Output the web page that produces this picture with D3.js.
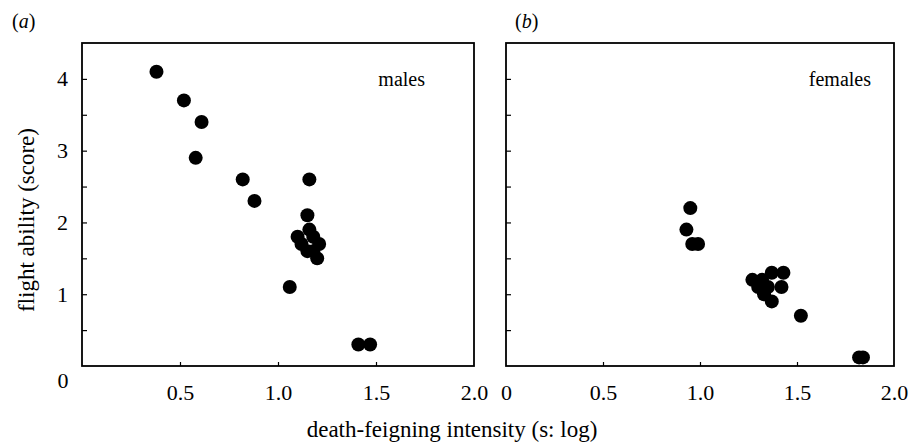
<!DOCTYPE html>
<html>
<head>
<meta charset="utf-8">
<script src="https://cdn.jsdelivr.net/npm/d3@7"></script>
<style>
  body { margin: 0; background: #fff; }
  svg { display: block; }
  text { font-family: "Liberation Serif", "Times New Roman", serif; fill: #000; }
</style>
</head>
<body>
<svg width="915" height="445"></svg>
<script>
// death-feigning intensity (s: log) and flight ability (score)
const malesDeath   = [0.38, 0.52, 0.61, 0.58, 0.82, 0.88, 1.16, 1.15, 1.16, 1.10, 1.18, 1.12, 1.21, 1.15, 1.18, 1.20, 1.06, 1.41, 1.47];
const malesFlight  = [4.1, 3.7, 3.4, 2.9, 2.6, 2.3, 2.6, 2.1, 1.9, 1.8, 1.8, 1.7, 1.7, 1.6, 1.6, 1.5, 1.1, 0.3, 0.3];
const femalesDeath  = [0.95, 0.93, 0.96, 0.99, 1.27, 1.32, 1.37, 1.43, 1.30, 1.35, 1.42, 1.33, 1.37, 1.52, 1.82, 1.84];
const femalesFlight = [2.2, 1.9, 1.7, 1.7, 1.2, 1.2, 1.3, 1.3, 1.1, 1.1, 1.1, 1.0, 0.9, 0.7, 0.12, 0.12];

const xTicks = [0.5, 1.0, 1.5];
const yTicks = [0.5, 1, 1.5, 2, 2.5, 3, 3.5, 4];
const xDomain = [0, 2.0], yDomain = [0, 4.5];

const svg = d3.select("svg");
const plotTop = 43, plotBottom = 366;

const y = d3.scaleLinear().domain(yDomain).range([plotBottom, plotTop]);

const panels = [
  {tag: "a", name: "males",   xs: malesDeath,   ys: malesFlight,   left: 82,  right: 474, yLabels: true,  zeroLabel: false, tagX: 12,  nameX: 425},
  {tag: "b", name: "females", xs: femalesDeath, ys: femalesFlight, left: 506, right: 894, yLabels: false, zeroLabel: true,  tagX: 515, nameX: 871}
];

panels.forEach(p => {
  const x = d3.scaleLinear().domain(xDomain).range([p.left, p.right]);
  const g = svg.append("g");

  // x axis: inward ticks
  const xAxis = g.append("g")
    .attr("transform", `translate(0,${plotBottom})`)
    .call(d3.axisBottom(x)
      .tickValues(p.zeroLabel ? [0, ...xTicks, 2.0] : [...xTicks, 2.0])
      .tickSizeInner(-4).tickSizeOuter(0).tickPadding(18)
      .tickFormat(d3.format(".1f")));
  xAxis.select(".domain").remove();
  xAxis.selectAll(".tick line").filter(d => d === 0 || d === 2.0).remove();
  xAxis.selectAll("text").filter(d => d === 0).text("0");
  xAxis.selectAll("text").style("font-size", "22px").style("font-family", "Liberation Serif, serif");

  // y axis
  const yAxis = g.append("g")
    .attr("transform", `translate(${p.left},0)`)
    .call(d3.axisLeft(y)
      .tickValues(yTicks)
      .tickSizeInner(-5).tickSizeOuter(0).tickPadding(14)
      .tickFormat(d => p.yLabels && Number.isInteger(d) ? d : ""));
  yAxis.select(".domain").remove();
  yAxis.selectAll("text").style("font-size", "22px").style("font-family", "Liberation Serif, serif");
  yAxis.selectAll("line").attr("stroke-width", 1.2);
  xAxis.selectAll("line").attr("stroke-width", 1.2);

  // frame
  g.append("rect")
    .attr("x", p.left).attr("y", plotTop)
    .attr("width", p.right - p.left).attr("height", plotBottom - plotTop)
    .attr("fill", "none").attr("stroke", "#000").attr("stroke-width", 1.8);

  // points
  g.selectAll("circle")
    .data(p.xs.map((v, i) => [v, p.ys[i]]))
    .enter().append("circle")
    .attr("cx", d => x(d[0]))
    .attr("cy", d => y(d[1]))
    .attr("r", 7)
    .attr("fill", "#000");

  // panel name
  g.append("text")
    .attr("x", p.nameX).attr("y", 86)
    .attr("text-anchor", "end")
    .style("font-size", "20px")
    .text(p.name);

  // panel tag
  const t = g.append("text")
    .attr("x", p.tagX).attr("y", 28)
    .style("font-size", "20px");
  t.append("tspan").text("(");
  t.append("tspan").style("font-style", "italic").text(p.tag);
  t.append("tspan").text(")");
});

// shared origin label of panel a
svg.append("text")
  .attr("x", 63).attr("y", 388)
  .attr("text-anchor", "middle")
  .style("font-size", "22px")
  .text("0");

// axis titles
svg.append("text")
  .attr("x", 452).attr("y", 437)
  .attr("text-anchor", "middle")
  .style("font-size", "23px")
  .text("death-feigning intensity (s: log)");

svg.append("text")
  .attr("transform", "translate(34,220) rotate(-90)")
  .attr("text-anchor", "middle")
  .style("font-size", "23px")
  .text("flight ability (score)");
</script>
</body>
</html>
